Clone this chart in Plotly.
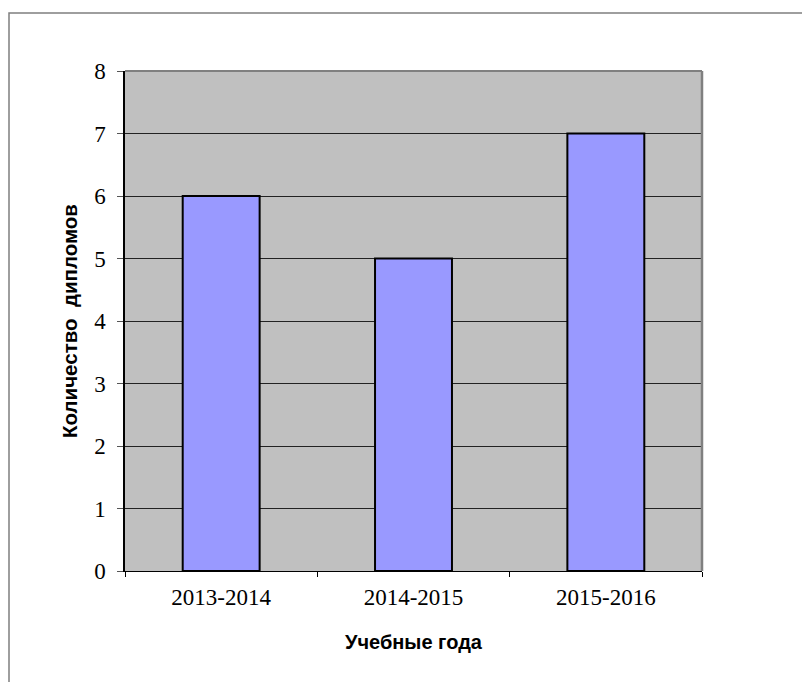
import plotly.graph_objects as go

years = ["2013-2014", "2014-2015", "2015-2016"]
diplomas = [6, 5, 7]
y_ticks = [0, 1, 2, 3, 4, 5, 6, 7, 8]

# page body has an 8px margin, so figure coordinates are offset by 8px
OFF = 8
W, H = 810 - 2 * OFF, 682 - OFF
L, T = 125 - OFF, 71 - OFF
R = W - (702 - OFF)
B = H - (571 - OFF)
pw, ph = W - L - R, H - T - B

def px_x(p):
    return (p - OFF - L) / pw

def px_y(p):
    return (H - B - (p - OFF)) / ph

fig = go.Figure(go.Bar(
    x=years, y=diplomas, width=0.4,
    marker=dict(color="#9999FF", line=dict(color="#000000", width=2)),
))

fig.update_layout(
    width=W, height=H,
    margin=dict(l=L, r=R, t=T, b=B),
    paper_bgcolor="white",
    plot_bgcolor="#C0C0C0",
    showlegend=False,
    xaxis=dict(
        type="category",
        tickson="boundaries",
        ticks="outside", ticklen=5, tickcolor="#000000", tickwidth=1,
        showgrid=False,
        showline=True, linecolor="#000000", linewidth=1,
        ticklabelstandoff=5,
        tickfont=dict(family="Liberation Serif", size=23, color="#000000"),
        title=dict(text="<b>Учебные года</b>", standoff=26,
                   font=dict(family="Liberation Sans", size=20, color="#000000")),
    ),
    yaxis=dict(
        range=[0, 8], tickvals=y_ticks,
        ticks="outside", ticklen=6, tickcolor="#555555", tickwidth=1,
        showgrid=True, gridcolor="#222222", gridwidth=1,
        showline=True, linecolor="#000000", linewidth=1.5,
        zeroline=False,
        ticklabelstandoff=7,
        tickfont=dict(family="Liberation Serif", size=23, color="#000000"),
        title=dict(text="<b>Количество  дипломов</b>", standoff=11,
                   font=dict(family="Liberation Sans", size=20.5, color="#000000")),
    ),
    shapes=[
        dict(type="line", xref="paper", yref="paper", x0=0, x1=1, y0=1, y1=1,
             line=dict(color="#808080", width=2), layer="above"),
        dict(type="line", xref="paper", yref="paper", x0=1, x1=1, y0=0, y1=1,
             line=dict(color="#808080", width=2.5), layer="above"),
        dict(type="rect", xref="paper", yref="paper",
             x0=px_x(9), x1=px_x(830), y0=px_y(700), y1=px_y(13),
             line=dict(color="#7f7f7f", width=1.5), layer="below"),
    ],
)

fig.write_html(
    "out.html",
    post_script="document.documentElement.style.overflow='hidden';"
                "document.body.style.overflow='hidden';",
)
